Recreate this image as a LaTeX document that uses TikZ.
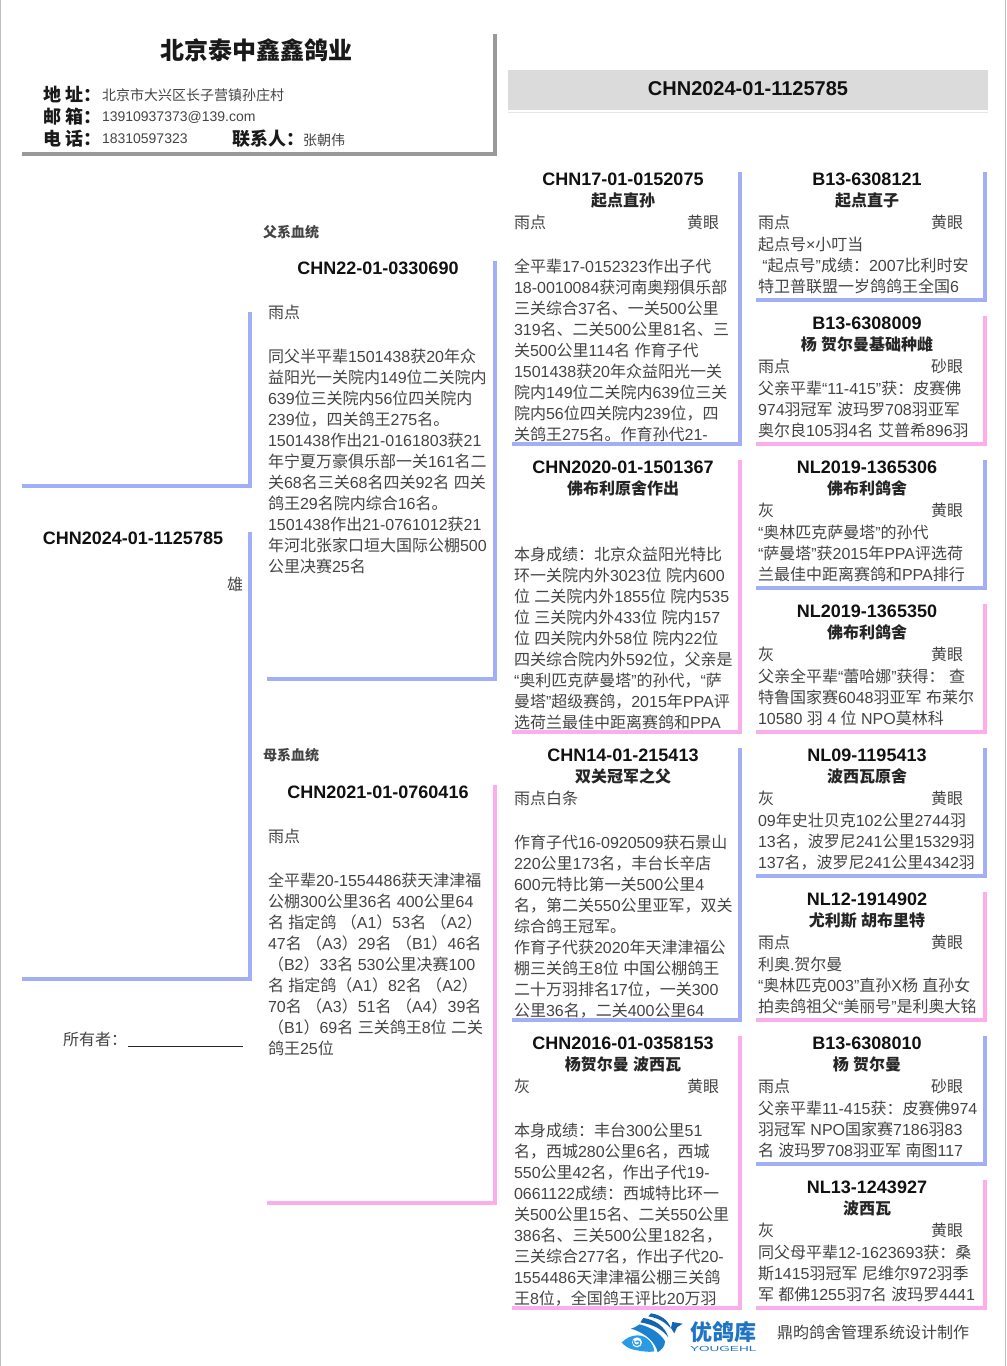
\documentclass[tikz,border=0pt]{standalone}
\usepackage{fontspec}
\setmainfont{Liberation Sans}
\newfontfamily\cjk{Noto Sans CJK SC}
\makeatletter
\newXeTeXintercharclass\cjkclass
\count@="3000 \loop \XeTeXcharclass\count@=\cjkclass \advance\count@ 1 \ifnum\count@<"3040 \repeat
\count@="4E00 \loop \XeTeXcharclass\count@=\cjkclass \advance\count@ 1 \ifnum\count@<"A000 \repeat
\count@="FF00 \loop \XeTeXcharclass\count@=\cjkclass \advance\count@ 1 \ifnum\count@<"FFF0 \repeat
\makeatother
\XeTeXinterchartoks 0 \cjkclass={\cjk}
\XeTeXinterchartoks 4095 \cjkclass={\cjk}
\XeTeXinterchartoks \cjkclass 0={\rmfamily}
\XeTeXinterchartoks \cjkclass 4095={\rmfamily}
\XeTeXinterchartokenstate=1
\newcommand{\pxfont}[2]{\fontsize{#1}{#2}\selectfont\lineskiplimit=-100pt\relax}
\definecolor{bodyink}{HTML}{444444}
\definecolor{idink}{HTML}{111111}
\definecolor{sirebar}{HTML}{A2AEF5}
\definecolor{dambar}{HTML}{FBAEEB}
\definecolor{framebar}{HTML}{999999}
\definecolor{logodark}{HTML}{1464B4}
\definecolor{logomid}{HTML}{1C80CE}
\definecolor{logolight}{HTML}{2A9BE4}
\definecolor{logotext}{HTML}{1F74C4}
\tikzset{
  plain/.style={inner sep=0pt,outer sep=0pt},
  idtext/.style={plain,anchor=base,text=idink,font=\pxfont{13.5}{16}\bfseries},
  nametext/.style={plain,anchor=base,text=black!85,font=\pxfont{12}{16}\bfseries},
  celltext/.style={plain,anchor=base west,text=bodyink,font=\pxfont{12}{16}},
  celltextr/.style={plain,anchor=base east,text=bodyink,font=\pxfont{12}{16}},
  bodytext/.style={plain,anchor=north west,align=left,text=bodyink,font=\pxfont{12}{15.75}},
  labeltext/.style={plain,anchor=base west,text=black!90,font=\pxfont{13.5}{16}\bfseries},
  valuetext/.style={plain,anchor=base west,text=bodyink,font=\pxfont{10.5}{14}},
  barpath/.style={line width=3pt,line cap=butt,line join=miter},
  sireline/.style={barpath,draw=sirebar},
  damline/.style={barpath,draw=dambar},
}
\newcommand{\cardhead}[5]{%
  \node[idtext] (#1id) at (#2,#3+6.5) {#4};
  \node[nametext] (#1name) at (#2,#3+27) {#5};}
\newcommand{\cardcolour}[6]{%
  \node[celltext] (#1col) at (#2,#4+6) {#5};
  \node[celltextr] (#1eye) at (#3,#4+6) {#6};}
\newcommand{\cardbody}[4]{%
  \node[bodytext] (#1body) at (#2,#3-10) {\rule{0pt}{12pt}#4};}
\begin{document}
\begin{tikzpicture}[x=0.75pt,y=-0.75pt]
\useasboundingbox (0,0) rectangle (1006,1366);
\fill[white] (0,0) rectangle (1006,1366);
\draw[line width=0.9pt,draw=black!25] (0.6,0) -- (0.6,1366);
\draw[line width=0.9pt,draw=black!25] (1005.4,0) -- (1005.4,1366);

% header
\node[plain,anchor=base,text=black!90,font=\pxfont{18}{20}\bfseries] (farm) at (256,60) {北京泰中鑫鑫鸽业};
\node[labeltext] (addrl) at (43,102) {地 址：};
\node[valuetext] (addrv) at (102,101) {北京市大兴区长子营镇孙庄村};
\node[labeltext] (maill) at (43,124) {邮 箱：};
\node[valuetext] (mailv) at (102,122) {13910937373@139.com};
\node[labeltext] (teld) at (43,146) {电 话：};
\node[valuetext] (telv) at (102,144) {18310597323};
\node[labeltext] (contl) at (232,146) {联系人：};
\node[valuetext] (contv) at (303,146) {张朝伟};
\draw[barpath,draw=framebar] (22,154) -- (495,154) -- (495,34);

% banner
\fill[black!14] (508,70) rectangle (988,110);
\draw[line width=0.75pt,draw=black!10] (508,112.5) -- (988,112.5);
\node[plain,anchor=base,text=idink,font=\pxfont{15}{18}\bfseries] (banner) at (748,96) {CHN2024-01-1125785};

% subject
\node[idtext] (subject) at (133,544.5) {CHN2024-01-1125785};
\node[plain,anchor=base east,text=bodyink,font=\pxfont{12}{16}] (sex) at (243,590) {雄};
\node[plain,anchor=base west,text=bodyink,font=\pxfont{10.5}{14}\bfseries] (ownerlabel) at (263,237) {父系血统};
\node[plain,anchor=base west,text=bodyink,font=\pxfont{10.5}{14}\bfseries] (damlabel) at (263,760) {母系血统};
\node[plain,anchor=base west,text=bodyink,font=\pxfont{12}{16}] (owner) at (63,1045) {所有者：};
\coordinate (ownerA) at (128,1046.5);
\coordinate (ownerB) at (243,1046.5);
\draw[line width=0.75pt,draw=black!85] (ownerA) -- (ownerB);

% generation 1
\node[idtext] (pid) at (378,274.5) {CHN22-01-0330690};
\node[celltext] (pcol) at (268,318) {雨点};
\cardbody{p}{268}{356}{同父半平辈1501438获20年众\\益阳光一关院内149位二关院内\\639位三关院内56位四关院内\\239位，四关鸽王275名。\\1501438作出21-0161803获21\\年宁夏万豪俱乐部一关161名二\\关68名三关68名四关92名 四关\\鸽王29名院内综合16名。\\1501438作出21-0761012获21\\年河北张家口垣大国际公棚500\\公里决赛25名}
\node[idtext] (mid) at (378,798.5) {CHN2021-01-0760416};
\node[celltext] (mcol) at (268,842) {雨点};
\cardbody{m}{268}{880}{全平辈20-1554486获天津津福\\公棚300公里36名 400公里64\\名 指定鸽 （A1）53名 （A2）\\47名 （A3）29名 （B1）46名\\（B2）33名 530公里决赛100\\名 指定鸽（A1）82名 （A2）\\70名 （A3）51名 （A4）39名\\（B1）69名 三关鸽王8位 二关\\鸽王25位}

% generation 2
\cardhead{a}{623}{179}{CHN17-01-0152075}{起点直孙}
\cardcolour{a}{514}{719}{222}{雨点}{黄眼}
\cardbody{a}{514}{266}{全平辈17-0152323作出子代\\18-0010084获河南奥翔俱乐部\\三关综合37名、一关500公里\\319名、二关500公里81名、三\\关500公里114名 作育子代\\1501438获20年众益阳光一关\\院内149位二关院内639位三关\\院内56位四关院内239位，四\\关鸽王275名。作育孙代21-}
\cardhead{b}{623}{467}{CHN2020-01-1501367}{佛布利原舍作出}
\cardbody{b}{514}{554}{本身成绩：北京众益阳光特比\\环一关院内外3023位 院内600\\位 二关院内外1855位 院内535\\位 三关院内外433位 院内157\\位 四关院内外58位 院内22位\\四关综合院内外592位，父亲是\\“奥利匹克萨曼塔”的孙代，“萨\\曼塔”超级赛鸽，2015年PPA评\\选荷兰最佳中距离赛鸽和PPA}
\cardhead{c}{623}{755}{CHN14-01-215413}{双关冠军之父}
\node[celltext] (ccol) at (514,804) {雨点白条};
\cardbody{c}{514}{842}{作育子代16-0920509获石景山\\220公里173名，丰台长辛店\\600元特比第一关500公里4\\名，第二关550公里亚军，双关\\综合鸽王冠军。\\作育子代获2020年天津津福公\\棚三关鸽王8位 中国公棚鸽王\\二十万羽排名17位，一关300\\公里36名，二关400公里64}
\cardhead{d}{623}{1043}{CHN2016-01-0358153}{杨贺尔曼 波西瓦}
\cardcolour{d}{514}{719}{1086}{灰}{黄眼}
\cardbody{d}{514}{1130}{本身成绩：丰台300公里51\\名，西城280公里6名，西城\\550公里42名，作出子代19-\\0661122成绩：西城特比环一\\关500公里15名、二关550公里\\386名、三关500公里182名，\\三关综合277名，作出子代20-\\1554486天津津福公棚三关鸽\\王8位，全国鸽王评比20万羽}

% generation 3
\cardhead{e}{867}{179}{B13-6308121}{起点直子}
\cardcolour{e}{758}{963}{222}{雨点}{黄眼}
\cardbody{e}{758}{244.5}{起点号×小叮当\\\hspace*{3.3pt}“起点号”成绩：2007比利时安\\特卫普联盟一岁鸽鸽王全国6}
\cardhead{f}{867}{323}{B13-6308009}{杨 贺尔曼基础种雌}
\cardcolour{f}{758}{963}{366}{雨点}{砂眼}
\cardbody{f}{758}{388.5}{父亲平辈“11-415”获：皮赛佛\\974羽冠军 波玛罗708羽亚军\\奥尔良105羽4名 艾普希896羽}
\cardhead{g}{867}{467}{NL2019-1365306}{佛布利鸽舍}
\cardcolour{g}{758}{963}{510}{灰}{黄眼}
\cardbody{g}{758}{532.5}{“奥林匹克萨曼塔”的孙代\\“萨曼塔”获2015年PPA评选荷\\兰最佳中距离赛鸽和PPA排行}
\cardhead{h}{867}{611}{NL2019-1365350}{佛布利鸽舍}
\cardcolour{h}{758}{963}{654}{灰}{黄眼}
\cardbody{h}{758}{676.5}{父亲全平辈“蕾哈娜”获得： 查\\特鲁国家赛6048羽亚军 布莱尔\\10580 羽 4 位 NPO莫林科}
\cardhead{i}{867}{755}{NL09-1195413}{波西瓦原舍}
\cardcolour{i}{758}{963}{798}{灰}{黄眼}
\cardbody{i}{758}{820.5}{09年史壮贝克102公里2744羽\\13名，波罗尼241公里15329羽\\137名，波罗尼241公里4342羽}
\cardhead{j}{867}{899}{NL12-1914902}{尤利斯 胡布里特}
\cardcolour{j}{758}{963}{942}{雨点}{黄眼}
\cardbody{j}{758}{964.5}{利奥.贺尔曼\\“奥林匹克003”直孙X杨 直孙女\\拍卖鸽祖父“美丽号”是利奥大铭}
\cardhead{k}{867}{1043}{B13-6308010}{杨 贺尔曼}
\cardcolour{k}{758}{963}{1086}{雨点}{砂眼}
\cardbody{k}{758}{1108.5}{父亲平辈11-415获：皮赛佛974\\羽冠军 NPO国家赛7186羽83\\名 波玛罗708羽亚军 南图117}
\cardhead{l}{867}{1187}{NL13-1243927}{波西瓦}
\cardcolour{l}{758}{963}{1230}{灰}{黄眼}
\cardbody{l}{758}{1252.5}{同父母平辈12-1623693获：桑\\斯1415羽冠军 尼维尔972羽季\\军 都佛1255羽7名 波玛罗4441}

% brackets
\draw[sireline] (22,486) -- (250,486) -- (250,312);
\draw[sireline] (22,979) -- (250,979) -- (250,532);
\draw[sireline] (267,679) -- (495,679) -- (495,261);
\draw[damline] (267,1203) -- (495,1203) -- (495,785);
\draw[sireline] (512,444) -- (740,444) -- (740,172);
\draw[damline] (512,732) -- (740,732) -- (740,460);
\draw[sireline] (512,1020) -- (740,1020) -- (740,748);
\draw[damline] (512,1308) -- (740,1308) -- (740,1036);
\draw[sireline] (756,300) -- (985,300) -- (985,172);
\draw[damline] (756,444) -- (985,444) -- (985,316);
\draw[sireline] (756,588) -- (985,588) -- (985,460);
\draw[damline] (756,732) -- (985,732) -- (985,604);
\draw[sireline] (756,876) -- (985,876) -- (985,748);
\draw[damline] (756,1020) -- (985,1020) -- (985,892);
\draw[sireline] (756,1164) -- (985,1164) -- (985,1036);
\draw[damline] (756,1308) -- (985,1308) -- (985,1180);

% footer logo
\begin{scope}[shift={(615,1308)},x=0.25pt,y=-0.25pt]
\fill[logodark] (108,16) .. controls (135,20) and (160,35) .. (168,62) .. controls (150,42) and (130,30) .. (100,25) -- cycle;
\fill[logodark] (85,30) .. controls (120,35) and (150,55) .. (160,88) .. controls (140,62) and (115,50) .. (76,43) -- cycle;
\fill[logomid] (48,62) .. controls (60,58) and (68,53) .. (74,49) .. controls (110,58) and (138,78) .. (150,100) .. controls (150,115) and (140,125) .. (128,133) .. controls (122,105) and (95,76) .. (48,62) -- cycle;
\fill[logolight] (20,104) .. controls (32,90) and (50,82) .. (68,82) .. controls (95,82) and (115,105) .. (118,130) .. controls (100,134) and (70,128) .. (52,124) .. controls (38,120) and (28,112) .. (20,104) -- cycle;
\fill[white] (66,103) circle[radius=15];
\draw[logolight,line width=1pt] (62,102) .. controls (68,95) and (78,102) .. (72,109) .. controls (64,116) and (52,108) .. (56,97);
\fill[logodark] (172,42) -- (203,47) -- (186,58) -- (178,76) -- (168,60) -- cycle;
\end{scope}
\node[plain,anchor=base west,text=logotext,font=\pxfont{16.5}{18}\bfseries] (brand) at (690,1340) {优鸽库};
\node[plain,anchor=base west,text=logotext,font=\pxfont{5.5}{6}] (brandlatin) at (690,1351) {\scalebox{1.85}[1]{YOUGEHL}};
\node[plain,anchor=base west,text=bodyink,font=\pxfont{12}{16}] (maker) at (777,1338) {鼎昀鸽舍管理系统设计制作};
\end{tikzpicture}
\end{document}
